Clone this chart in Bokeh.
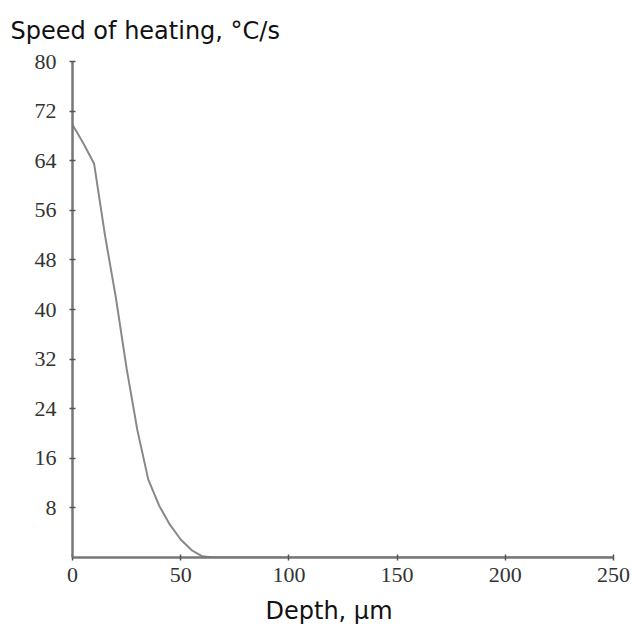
from bokeh.plotting import figure
from bokeh.models import FixedTicker, Range1d, Title
from bokeh.embed import file_html
from bokeh.resources import INLINE

depth = [0, 5, 10, 15, 20, 25, 30, 35, 40, 45, 50, 55, 60, 65, 100, 150, 200, 250]
speed = [69.8, 66.8, 63.5, 52.0, 42.0, 30.5, 20.5, 12.6, 8.4, 5.3, 2.9, 1.2, 0.2, 0.0, 0.0, 0.0, 0.0, 0.0]
x_ticks = [0, 50, 100, 150, 200, 250]
y_ticks = [8, 16, 24, 32, 40, 48, 56, 64, 72, 80]
y_title = "Speed of heating, °C/s"
x_title = "Depth, μm"

p = figure(width=632, height=634, output_backend="svg", toolbar_location=None,
           x_range=Range1d(0, 250), y_range=Range1d(0, 80),
           min_border_left=72, min_border_right=19, min_border_top=61, min_border_bottom=77)
p.outline_line_color = None
p.xgrid.visible = False
p.ygrid.visible = False
p.background_fill_color = "white"

p.line(depth, speed, line_color="#888888", line_width=2)

for ax in (p.xaxis[0], p.yaxis[0]):
    ax.axis_line_color = "#777777"
    ax.axis_line_width = 2.5
    ax.major_tick_line_color = "#555555"
    ax.major_tick_line_width = 1.5
    ax.major_tick_in = 3
    ax.major_tick_out = 3
    ax.minor_tick_line_color = None
    ax.major_label_text_font = "Liberation Serif"
    ax.major_label_text_font_size = "22px"
    ax.major_label_text_color = "#333333"

p.xaxis.ticker = FixedTicker(ticks=x_ticks)
p.yaxis.ticker = FixedTicker(ticks=y_ticks)
p.xaxis.major_label_standoff = 7
p.yaxis.major_label_standoff = 13

top_title = Title(text=y_title, align="left", offset=-62, vertical_align="top",
                  text_font="DejaVu Sans", text_font_size="24px", text_font_style="normal",
                  text_color="#111111", standoff=30)
p.add_layout(top_title, "above")

xlab = Title(text=x_title, align="left", offset=193,
             text_font="DejaVu Sans", text_font_size="24px",
             text_font_style="normal", text_color="#111111", standoff=20)
p.add_layout(xlab, "below")

open("out.html", "w").write(file_html(p, INLINE))
